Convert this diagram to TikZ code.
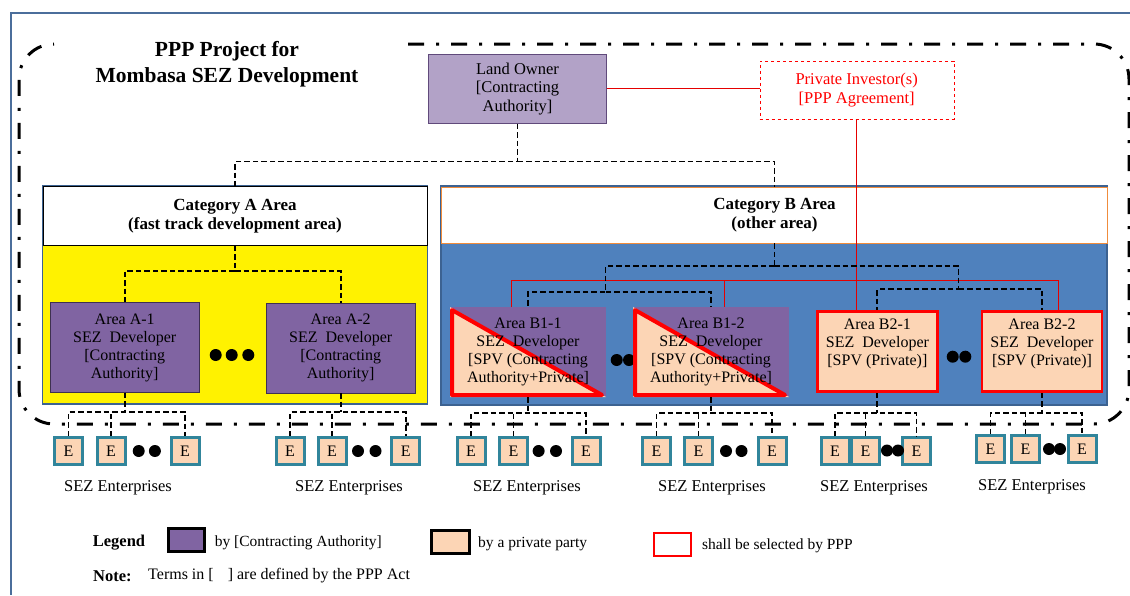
\documentclass[tikz,border=0pt]{standalone}
\usepackage{fontspec}
\setmainfont{Liberation Serif}
\usetikzlibrary{positioning}

\definecolor{frameblue}{RGB}{75,110,155}
\definecolor{ownerfill}{RGB}{178,162,199}
\definecolor{ownerline}{RGB}{96,74,123}
\definecolor{capurple}{RGB}{128,100,162}
\definecolor{caline}{RGB}{63,49,81}
\definecolor{peach}{RGB}{252,213,181}
\definecolor{eteal}{RGB}{49,133,155}
\definecolor{catblue}{RGB}{79,129,189}
\definecolor{catline}{RGB}{60,98,145}
\definecolor{headorange}{RGB}{240,140,60}

\begin{document}
\begin{tikzpicture}[
    x=1pt, y=-1pt,
    every node/.style={font=\fontsize{16}{18}\selectfont},
    owner/.style={rectangle, draw=ownerline, fill=ownerfill, minimum width=178pt, minimum height=69pt, align=center, font=\fontsize{16.5}{18.7}\selectfont},
    investor/.style={rectangle, draw=red, dashed, fill=white, text=red, minimum width=194pt, minimum height=58pt, align=center, font=\fontsize{16.5}{19}\selectfont},
    cat/.style={rectangle, draw=catline, line width=1.6pt, fill=#1},
    cathead/.style={rectangle, draw=#1, line width=0.8pt, fill=white, align=center, font=\fontsize{17}{19}\selectfont\bfseries},
    dev/.style={rectangle, draw=caline, fill=capurple, minimum width=149pt, minimum height=90pt, align=center},
    devmix/.style={rectangle, fill=capurple, minimum width=156pt, minimum height=90pt, align=center, inner sep=1pt,
        path picture={
            \fill[peach] (path picture bounding box.north west) -- (path picture bounding box.south west) -- (path picture bounding box.south east) -- cycle;
            \draw[red, line width=4pt, line join=round] ([shift={(2pt,-3pt)}]path picture bounding box.north west) -- ([shift={(2pt,2pt)}]path picture bounding box.south west) -- ([shift={(-4pt,2pt)}]path picture bounding box.south east) -- cycle;
        }},
    devpriv/.style={rectangle, draw=red, line width=2.5pt, fill=peach, minimum width=120pt, minimum height=80pt, align=center, inner sep=1pt},
    ent/.style={rectangle, draw=eteal, line width=3pt, fill=peach, minimum width=28pt, minimum height=27pt, inner sep=0pt},
    entlabel/.style={font=\fontsize{16.5}{18}\selectfont},
    dot/.style={circle, fill=black, minimum size=12pt, inner sep=0pt},
    legbox/.style={rectangle, line width=3pt, minimum width=36pt, minimum height=23pt},
    legtext/.style={anchor=west, font=\fontsize{15.5}{18}\selectfont},
    link/.style={draw=black, line width=1.9pt, dash pattern=on 5.5pt off 3pt},
    redlink/.style={draw=red!90!black, line width=0.9pt},
]
    \useasboundingbox (0,0) rectangle (1130,595);

    % page frame
    \draw[frameblue, line width=2.5pt] (1130,13) -- (11,13) -- (11,595);

    % the two categories
    \node[cat=yellow, minimum width=385pt, minimum height=218pt] (cata) at (235,295) {};
    \node[cathead=black, minimum width=384pt, minimum height=59pt] (cahead) at (235,216) {Category A Area\\(fast track development area)};
    \node[cat=catblue, minimum width=666pt, minimum height=219pt] (catb) at (774,295.5) {};
    \node[cathead=headorange, minimum width=666pt, minimum height=56pt] (cbhead) at (774.5,215) {Category B Area\\(other area)};

    \node[font=\fontsize{21.5}{26}\selectfont\bfseries, align=center] (title) at (227,64.5) {PPP Project for\\Mombasa SEZ Development};

    \node[owner] (lowner) at (517.5,88.8) {Land Owner\\{}[Contracting\\Authority]};
    \node[investor] (investor) at (856.7,89.8) {Private Investor(s)\\{}[PPP Agreement]};

    % dots between developers
    \node[dot] (da1) at (215.7,355) {};
    \node[dot] (da2) at (231.7,355) {};
    \node[dot] (da3) at (248.3,355) {};
    \node[dot] (db1) at (616.7,360) {};
    \node[dot] (db2) at (629,360) {};
    \node[dot] (db3) at (952.7,356.7) {};
    \node[dot] (db4) at (965.3,356.7) {};

    % SEZ developers
    \node[dev] (a1) at (124.7,347.5) {Area A-1\\SEZ\ \ Developer\\{}[Contracting\\Authority]};
    \node[dev] (a2) at (340.7,347.8) {Area A-2\\SEZ\ \ Developer\\{}[Contracting\\Authority]};
    \node[devmix] (b11) at (528,352) {Area B1-1\\SEZ\ \ Developer\\{}[SPV (Contracting\\Authority+Private]};
    \node[devmix] (b12) at (711,352) {Area B1-2\\SEZ\ \ Developer\\{}[SPV (Contracting\\Authority+Private]};
    \node[devpriv] (b21) at (877.4,351.5) {Area B2-1\\SEZ\ \ Developer\\{}[SPV (Private)]\\\mbox{}};
    \node[devpriv] (b22) at (1042,351.5) {Area B2-2\\SEZ\ \ Developer\\{}[SPV (Private)]\\\mbox{}};

    % SEZ enterprises
    \node[ent] (e11) at (68.5,451) {E};
    \node[ent] (e12) at (111,451) {E};
    \node[ent] (e13) at (185,451) {E};
    \node[ent] (e21) at (290,451) {E};
    \node[ent] (e22) at (332,451) {E};
    \node[ent] (e23) at (405.7,451) {E};
    \node[ent] (e31) at (471,451) {E};
    \node[ent] (e32) at (513.5,451) {E};
    \node[ent] (e33) at (586,451) {E};
    \node[ent] (e41) at (656.5,451) {E};
    \node[ent] (e42) at (698.5,451) {E};
    \node[ent] (e43) at (772,451) {E};
    \node[ent] (e51) at (835,451) {E};
    \node[ent] (e52) at (865.5,451) {E};
    \node[ent] (e53) at (916.5,451) {E};
    \node[ent] (e61) at (990.5,449) {E};
    \node[ent] (e62) at (1025.5,449) {E};
    \node[ent] (e63) at (1082,449) {E};

    \node[dot] (de11) at (138.7,451) {};
    \node[dot] (de12) at (154.9,451) {};
    \node[dot] (de21) at (358,451) {};
    \node[dot] (de22) at (375.5,451) {};
    \node[dot] (de31) at (538.6,451) {};
    \node[dot] (de32) at (556,451) {};
    \node[dot] (de41) at (726,451) {};
    \node[dot] (de42) at (741.5,451) {};
    \node[dot] (de51) at (887,450.5) {};
    \node[dot] (de52) at (898,450.5) {};
    \node[dot] (de61) at (1049,449) {};
    \node[dot] (de62) at (1060,449) {};

    \node[entlabel] (s1) at (118,488) {SEZ Enterprises};
    \node[entlabel] (s2) at (349,488) {SEZ Enterprises};
    \node[entlabel] (s3) at (527,488) {SEZ Enterprises};
    \node[entlabel] (s4) at (712,488) {SEZ Enterprises};
    \node[entlabel] (s5) at (874,488) {SEZ Enterprises};
    \node[entlabel] (s6) at (1032,487) {SEZ Enterprises};

    % owner and investor
    \draw[redlink] (lowner.east) -- (lowner.east -| investor.west);
    \draw[redlink] (investor.south) -- (investor.south |- b21.north);
    \draw[redlink] ([xshift=-17pt]b11.north) -- ++(0,-26) -| ([xshift=16pt]b22.north);
    \draw[redlink] ([xshift=13pt]b12.north) -- ++(0,-26);

    % hierarchy
    \draw[link] (lowner.south) -- ++(0,38) -| (cahead.north);
    \draw[link] (lowner.south) ++(0,38) -| (cbhead.north);
    \draw[link] (cahead.south) -- ++(0,25) -| (a1.north);
    \draw[link] (cahead.south) ++(0,25) -| (a2.north);
    \draw[link] (cbhead.south) -- ++(0,23) coordinate (bfork);
    \draw[link] (bfork) -| ++(-169,26) coordinate (b1fork) -| (b11.north);
    \draw[link] (b1fork) -| (b12.north);
    \draw[link] (bfork) -| ++(184,23) coordinate (b2fork) -| (b21.north);
    \draw[link] (b2fork) -| (b22.north);

    % developers to enterprises
    \draw[link] (a1.south) -- ++(0,19) coordinate (g1);
    \draw[link] (e11.north) |- (g1) -| (e13.north);
    \draw[link] (e12.north) -- (e12.north |- g1);
    \draw[link] (a2.south) -- ++(0,19) coordinate (g2);
    \draw[link] (e21.north) |- (g2) -| (e23.north);
    \draw[link] (e22.north) -- (e22.north |- g2);
    \draw[link] (b11.south) -- ++(0,16) coordinate (g3);
    \draw[link] (e31.north) |- (g3) -| (e33.north);
    \draw[link] (e32.north) -- (e32.north |- g3);
    \draw[link] (b12.south) -- ++(0,16) coordinate (g4);
    \draw[link] (e41.north) |- (g4) -| (e43.north);
    \draw[link] (e42.north) -- (e42.north |- g4);
    \draw[link] (b21.south) -- ++(0,20) coordinate (g5);
    \draw[link] (e51.north) |- (g5) -| (e53.north);
    \draw[link] (e52.north) -- (e52.north |- g5);
    \draw[link] (b22.south) -- ++(0,20) coordinate (g6);
    \draw[link] (e61.north) |- (g6) -| (e63.north);
    \draw[link] (e62.north) -- (e62.north |- g6);

    % legend
    \node[font=\fontsize{16.5}{18}\selectfont\bfseries] (legend) at (119,543) {Legend};
    \node[legbox, draw=black, fill=capurple] (legca) at (186.5,540) {};
    \node[legtext] (legcatxt) at (211.3,543) {by [Contracting Authority]};
    \node[legbox, draw=black, fill=peach, minimum width=37.5pt] (legpriv) at (450.3,542) {};
    \node[legtext] (legprivtxt) at (474.7,544) {by a private party};
    \node[legbox, draw=red, line width=2pt, fill=white, minimum width=37pt] (legppp) at (672,544.5) {};
    \node[legtext] (legppptxt) at (698.5,546) {shall be selected by PPP};
    \node[anchor=west, font=\fontsize{16.5}{18}\selectfont\bfseries] (note) at (89.7,576) {Note:};
    \node[anchor=west] (notetxt) at (144.7,576) {Terms in [\hspace{14pt}] are defined by the PPP Act};

    % project boundary
    \draw[line width=3pt, dash pattern=on 16pt off 12pt on 3pt off 12pt, rounded corners=35pt]
        (408,44) -- (1129,44) -- (1129,424) -- (19,424) -- (19,44) -- (54,44);
\end{tikzpicture}
\end{document}
